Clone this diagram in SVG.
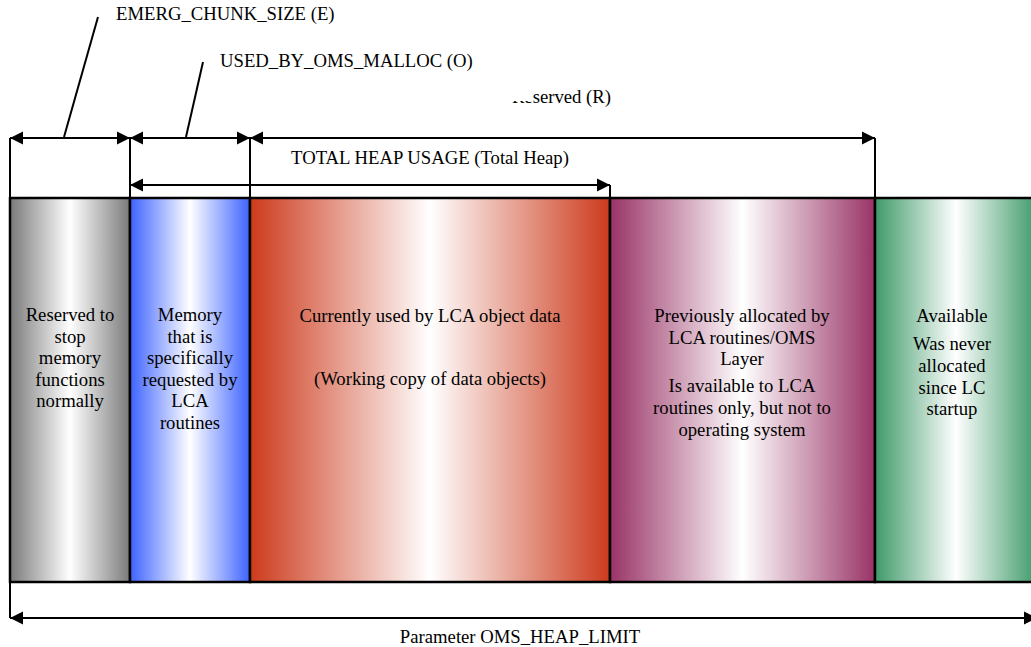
<svg xmlns="http://www.w3.org/2000/svg" width="1031" height="647" viewBox="0 0 1031 647">
<style>
  text { font-family: 'Liberation Serif', 'DejaVu Serif', serif; font-size: 18.7px; fill: #000; }
  .c { text-anchor: middle; }
  .col { stroke: #000; stroke-width: 2.5; }
  .ln { stroke: #000; stroke-width: 2; fill: none; }
  .arr { stroke: #000; stroke-width: 2; fill: none; marker-start: url(#ah); marker-end: url(#ah); }
</style>
<defs>
  <marker id="ah" markerUnits="userSpaceOnUse" markerWidth="14" markerHeight="14" viewBox="0 0 14 14" refX="13" refY="7" orient="auto-start-reverse">
    <path d="M0,0.5 L13,7 L0,13.5 Z" fill="#000"/>
  </marker>
  <linearGradient id="gGray" x1="0" y1="0" x2="1" y2="0">
    <stop offset="0" stop-color="#7a7a7a"/><stop offset="0.5" stop-color="#ffffff"/><stop offset="1" stop-color="#7a7a7a"/>
  </linearGradient>
  <linearGradient id="gBlue" x1="0" y1="0" x2="1" y2="0">
    <stop offset="0" stop-color="#3d63ff"/><stop offset="0.5" stop-color="#ffffff"/><stop offset="1" stop-color="#3d63ff"/>
  </linearGradient>
  <linearGradient id="gRed" x1="0" y1="0" x2="1" y2="0">
    <stop offset="0" stop-color="#cc3a1c"/><stop offset="0.5" stop-color="#ffffff"/><stop offset="1" stop-color="#cc3a1c"/>
  </linearGradient>
  <linearGradient id="gPurple" x1="0" y1="0" x2="1" y2="0">
    <stop offset="0" stop-color="#993366"/><stop offset="0.5" stop-color="#ffffff"/><stop offset="1" stop-color="#993366"/>
  </linearGradient>
  <linearGradient id="gGreen" x1="0" y1="0" x2="1" y2="0">
    <stop offset="0" stop-color="#3e9a69"/><stop offset="0.5" stop-color="#ffffff"/><stop offset="1" stop-color="#3e9a69"/>
  </linearGradient>
</defs>
<rect width="1031" height="647" fill="#fff"/>

<g id="col-emerg">
  <rect class="col" x="10" y="198" width="120" height="384" fill="url(#gGray)"/>
  <text class="c" x="70" y="321">Reserved to</text>
  <text class="c" x="70" y="343">stop</text>
  <text class="c" x="70" y="364">memory</text>
  <text class="c" x="70" y="386">functions</text>
  <text class="c" x="70" y="407">normally</text>
</g>
<g id="col-oms">
  <rect class="col" x="130" y="198" width="120" height="384" fill="url(#gBlue)"/>
  <text class="c" x="190" y="321">Memory</text>
  <text class="c" x="190" y="343">that is</text>
  <text class="c" x="190" y="364">specifically</text>
  <text class="c" x="190" y="386">requested by</text>
  <text class="c" x="190" y="407">LCA</text>
  <text class="c" x="190" y="429">routines</text>
</g>
<g id="col-used">
  <rect class="col" x="250" y="198" width="360" height="384" fill="url(#gRed)"/>
  <text class="c" x="430" y="322">Currently used by LCA object data</text>
  <text class="c" x="430" y="385">(Working copy of data objects)</text>
</g>
<g id="col-prev">
  <rect class="col" x="610" y="198" width="265" height="384" fill="url(#gPurple)"/>
  <text class="c" x="742" y="322">Previously allocated by</text>
  <text class="c" x="742" y="344">LCA routines/OMS</text>
  <text class="c" x="742" y="365">Layer</text>
  <text class="c" x="742" y="392">Is available to LCA</text>
  <text class="c" x="742" y="414">routines only, but not to</text>
  <text class="c" x="742" y="436">operating system</text>
</g>
<g id="col-avail">
  <rect class="col" x="875" y="198" width="162" height="384" fill="url(#gGreen)"/>
  <text class="c" x="952" y="322">Available</text>
  <text class="c" x="952" y="350">Was never</text>
  <text class="c" x="952" y="372">allocated</text>
  <text class="c" x="952" y="394">since LC</text>
  <text class="c" x="952" y="415">startup</text>
</g>

<g id="connectors">
  <line class="ln" x1="10" y1="138" x2="10" y2="198"/>
  <line class="ln" x1="130" y1="138" x2="130" y2="198"/>
  <line class="ln" x1="250" y1="138" x2="250" y2="198"/>
  <line class="ln" x1="875" y1="138" x2="875" y2="198"/>
  <line class="ln" x1="610" y1="185" x2="610" y2="198"/>
  <line class="ln" x1="10" y1="582" x2="10" y2="618"/>
  <line class="arr" x1="10" y1="138" x2="130" y2="138"/>
  <line class="arr" x1="130" y1="138" x2="250" y2="138"/>
  <line class="arr" x1="250" y1="138" x2="875" y2="138"/>
  <line class="arr" x1="130" y1="185" x2="610" y2="185"/>
  <line class="arr" x1="10" y1="618" x2="1037" y2="618"/>
  <line class="ln" x1="64" y1="137" x2="98" y2="17"/>
  <line class="ln" x1="186" y1="137" x2="203" y2="62"/>
</g>

<g id="labels">
  <text x="116" y="20">EMERG_CHUNK_SIZE (E)</text>
  <text x="220" y="67">USED_BY_OMS_MALLOC (O)</text>
  <text x="611" y="103" text-anchor="end">Reserved (R)</text>
  <rect x="508" y="82" width="25" height="19" fill="#fff"/>
  <text class="c" x="430" y="164">TOTAL HEAP USAGE (Total Heap)</text>
  <text class="c" x="520" y="643">Parameter OMS_HEAP_LIMIT</text>
</g>
</svg>
